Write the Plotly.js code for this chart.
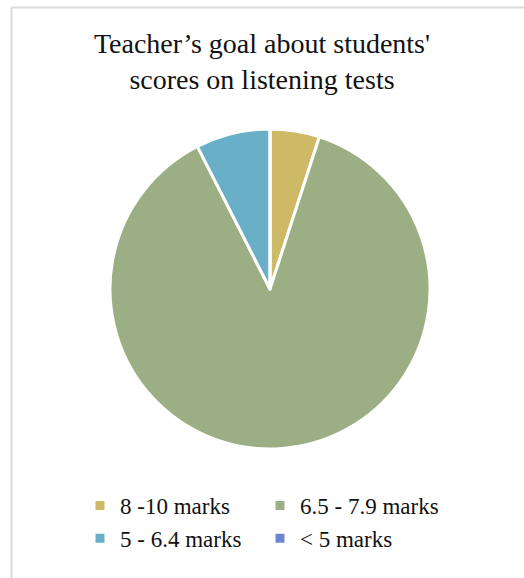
<!DOCTYPE html>
<html>
<head>
<meta charset="utf-8">
<script src="https://cdn.plot.ly/plotly-3.0.1.min.js"></script>
<style>html,body{margin:0;padding:0;background:#fff;}#chart{width:524px;height:578px;}</style>
</head>
<body>
<div id="chart"></div>
<script>
var categories = ["8 -10 marks", "6.5 - 7.9 marks", "5 - 6.4 marks", "< 5 marks"];
var values = [2, 35, 3, 0];
var colors = ["#CDB966", "#9CAF84", "#68AFC7", "#6B86CE"];
var titleText = "Teacher’s goal about students'<br>scores on listening tests";

var W = 524, H = 578;
var trace = {
  type: "pie",
  labels: categories,
  values: values,
  sort: false,
  direction: "clockwise",
  rotation: 0,
  textinfo: "none",
  hoverinfo: "label+percent",
  marker: {colors: colors, line: {color: "#ffffff", width: 3}},
  domain: {x: [110 / W, 430 / W], y: [1 - 449 / H, 1 - 129 / H]},
  showlegend: true
};
var layout = {
  width: W, height: H,
  margin: {l: 0, r: 0, t: 0, b: 0, autoexpand: false},
  paper_bgcolor: "#ffffff",
  font: {family: "Liberation Serif, serif", color: "#111111"},
  title: {
    text: titleText,
    font: {size: 28, family: "Liberation Serif, serif", color: "#111111"},
    x: 0.5, xanchor: "center",
    y: 1 - 53 / H, yanchor: "top", yref: "container"
  },
  legend: {
    orientation: "h",
    x: 80 / W, xanchor: "left",
    y: 1 - 484 / H, yanchor: "top",
    entrywidth: 135, entrywidthmode: "pixels",
    font: {size: 23, family: "Liberation Serif, serif", color: "#111111"},
    traceorder: "normal"
  },
  shapes: [
    {type: "line", xref: "paper", yref: "paper", x0: 11.5 / W, x1: 11.5 / W, y0: 1 - 7.5 / H, y1: -0.05, line: {color: "#d9d9d9", width: 2}},
    {type: "line", xref: "paper", yref: "paper", x0: 11.5 / W, x1: 1.05, y0: 1 - 7.5 / H, y1: 1 - 7.5 / H, line: {color: "#d9d9d9", width: 2}}
  ]
};
Plotly.newPlot("chart", [trace], layout, {displayModeBar: false, staticPlot: true});
</script>
</body>
</html>
